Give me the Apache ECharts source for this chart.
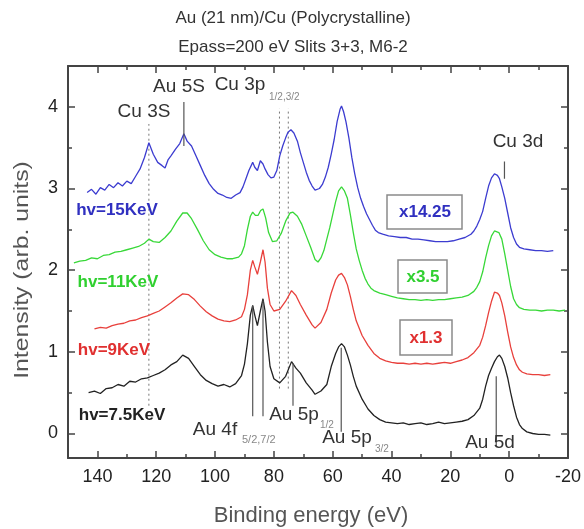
<!DOCTYPE html>
<html><head><meta charset="utf-8">
<script src="https://cdn.jsdelivr.net/npm/echarts@6/dist/echarts.min.js"></script>
<style>html,body{margin:0;padding:0;background:#fff}#c{width:584px;height:529px}</style>
</head><body><div id="c"></div>
<script>
// ---- tick values ----
const xMajorTicks = [140, 120, 100, 80, 60, 40, 20, 0, -20];
const xMinorTicks = [130, 110, 90, 70, 50, 30, 10, -10];
const yMajorTicks = [0, 1, 2, 3, 4];
const yMinorTicks = [0.5, 1.5, 2.5, 3.5];

// ---- spectra: [binding energy (eV), intensity] ----
const hv15 = [[143.5,2.95],[142,2.99],[140.5,2.93],[139,3.01],[137.5,2.98],[136,3.05],[134.5,3.01],[133,3.07],[131.5,3.03],[130,3.09],[128.5,3.06],[127,3.15],[125.5,3.24],[124,3.38],[122.5,3.56],[121,3.42],[119.5,3.32],[118,3.28],[117,3.25],[116,3.35],[115,3.40],[113.5,3.48],[112,3.55],[110.6,3.67],[109.5,3.58],[108,3.52],[106.5,3.40],[105,3.28],[103.5,3.16],[102,3.06],[100.5,2.99],[99,2.94],[97.5,2.92],[96,2.89],[94.5,2.88],[93,2.92],[91.5,2.95],[90.5,3.02],[89.5,3.12],[88.5,3.22],[87.2,3.32],[86.5,3.26],[85.6,3.22],[84.6,3.34],[83.7,3.30],[83,3.24],[82,3.17],[81,3.13],[80,3.14],[79,3.22],[78,3.40],[77,3.52],[76,3.62],[75.2,3.69],[74.2,3.72],[73.2,3.68],[72,3.58],[71,3.44],[70,3.32],[69,3.20],[68,3.10],[67,3.03],[66,2.98],[65.5,2.97],[64.5,3.00],[63.5,3.05],[62.5,3.14],[61.5,3.26],[60.5,3.42],[59.5,3.60],[58.5,3.82],[57.5,3.97],[57,4.01],[56.3,3.94],[55.5,3.82],[54.5,3.62],[53.5,3.38],[52.5,3.18],[51.5,3.01],[50.5,2.88],[49.5,2.78],[48.5,2.69],[47.5,2.62],[46.5,2.55],[45.5,2.49],[44.5,2.46],[43,2.44],[41,2.42],[39,2.41],[37,2.40],[35,2.40],[33,2.38],[31,2.38],[29,2.37],[27,2.36],[25,2.35],[23,2.35],[21,2.35],[19,2.36],[17,2.38],[15,2.40],[13,2.44],[12,2.48],[11,2.54],[10,2.62],[9,2.72],[8,2.88],[7,3.03],[6,3.13],[5,3.18],[4,3.16],[3.3,3.12],[2.5,3.02],[1.5,2.88],[0.5,2.70],[-0.5,2.52],[-1.5,2.40],[-2.5,2.32],[-3.5,2.28],[-5,2.26],[-7,2.25],[-9,2.24],[-11,2.24],[-13,2.23],[-15,2.24]];

const hv11 = [[148,2.09],[146,2.11],[144,2.12],[142,2.15],[140,2.14],[138,2.18],[136,2.19],[134,2.22],[132,2.23],[130,2.25],[128,2.27],[126,2.29],[124,2.33],[122.5,2.38],[121,2.35],[119,2.34],[117,2.40],[115,2.48],[113,2.60],[111,2.70],[109.5,2.70],[108,2.63],[106,2.50],[104,2.36],[102,2.25],[100,2.19],[98,2.16],[96,2.14],[94,2.14],[92,2.16],[91,2.20],[90,2.30],[89,2.50],[88,2.66],[87.2,2.71],[86.3,2.67],[85.4,2.67],[84.5,2.73],[83.7,2.75],[82.8,2.64],[81.8,2.46],[80.5,2.35],[79,2.36],[77.5,2.45],[76,2.60],[74.5,2.70],[73.5,2.71],[72,2.66],[70.5,2.56],[69,2.42],[67.5,2.28],[66,2.13],[65,2.10],[64,2.15],[63,2.24],[62,2.38],[61,2.52],[60,2.68],[59,2.84],[58,2.97],[57,3.02],[56,2.97],[55,2.88],[54,2.68],[53,2.46],[52,2.26],[51,2.12],[50,2.00],[49,1.90],[48,1.83],[47,1.78],[46,1.75],[44,1.72],[42,1.70],[40,1.68],[38,1.66],[36,1.65],[34,1.64],[32,1.64],[30,1.63],[28,1.64],[26,1.63],[24,1.64],[22,1.64],[20,1.65],[18,1.66],[16,1.67],[14,1.69],[12,1.74],[11,1.79],[10,1.86],[9,1.98],[8,2.15],[7,2.30],[6,2.42],[5,2.48],[4.4,2.49],[3.5,2.46],[2.5,2.38],[1.5,2.20],[0.5,2.00],[-0.5,1.80],[-1.5,1.65],[-2.5,1.58],[-3.5,1.54],[-5,1.52],[-7,1.51],[-9,1.51],[-11,1.50],[-13,1.51],[-15,1.51],[-17,1.50],[-19,1.51]];

const hv9 = [[141,1.28],[139,1.30],[137,1.29],[135,1.32],[133,1.34],[131,1.35],[129,1.38],[127,1.39],[125,1.42],[123,1.44],[121,1.47],[119,1.50],[117,1.55],[115,1.60],[113,1.66],[111,1.71],[109,1.70],[107,1.64],[105,1.56],[103,1.49],[101,1.44],[99,1.40],[97,1.38],[95,1.37],[93,1.39],[91,1.43],[90,1.52],[89,1.70],[88,2.00],[87.2,2.12],[86.5,2.04],[85.6,1.95],[84.6,2.10],[83.7,2.25],[83,2.10],[82.2,1.78],[81.3,1.58],[80,1.50],[78,1.52],[76,1.62],[74,1.75],[72.5,1.69],[71,1.58],[69,1.45],[67,1.33],[66,1.29],[64,1.36],[62,1.52],[60.5,1.72],[59,1.88],[58,1.94],[57,1.96],[56,1.91],[55,1.82],[54,1.68],[53,1.52],[52,1.38],[50,1.20],[48,1.08],[46,0.98],[44,0.92],[42,0.89],[40,0.87],[38,0.86],[36,0.86],[34,0.85],[32,0.86],[30,0.85],[28,0.86],[26,0.85],[24,0.86],[22,0.87],[20,0.86],[18,0.88],[16,0.90],[14,0.93],[12,0.99],[10,1.08],[9,1.18],[8,1.32],[7,1.48],[6,1.62],[5,1.73],[4,1.72],[3.3,1.69],[2.5,1.60],[1.5,1.44],[0.5,1.24],[-0.5,1.06],[-1.5,0.93],[-2.5,0.84],[-3.5,0.78],[-4.5,0.75],[-6,0.73],[-8,0.72],[-10,0.72],[-12,0.71],[-14,0.72]];

const hv7_5 = [[143,0.50],[141,0.52],[139,0.49],[137,0.55],[135,0.56],[133,0.60],[131,0.58],[129,0.64],[127,0.63],[125,0.67],[123,0.68],[121,0.71],[119,0.74],[117,0.78],[115,0.84],[113,0.88],[111,0.96],[109,0.92],[107,0.82],[105,0.72],[103,0.65],[101,0.61],[99,0.58],[97,0.60],[95,0.57],[93,0.61],[91,0.71],[90,0.85],[89,1.10],[88,1.45],[87.2,1.57],[86.5,1.45],[85.6,1.32],[84.6,1.50],[83.7,1.65],[83,1.50],[82.2,1.12],[81.3,0.82],[80,0.67],[78,0.62],[76,0.70],[74,0.88],[72.5,0.80],[71,0.74],[69,0.62],[67,0.53],[66,0.48],[64,0.52],[62,0.60],[60.5,0.82],[59,0.98],[58,1.06],[57,1.10],[56,1.06],[55,0.96],[54,0.84],[53,0.70],[52,0.58],[50,0.42],[48,0.30],[46,0.22],[44,0.17],[42,0.14],[40,0.13],[38,0.12],[36,0.13],[34,0.11],[32,0.12],[30,0.13],[28,0.11],[26,0.12],[24,0.14],[22,0.12],[20,0.13],[18,0.14],[16,0.15],[14,0.17],[12,0.22],[10,0.31],[9,0.42],[8,0.58],[7,0.71],[6,0.80],[5,0.88],[4,0.94],[3.3,0.96],[2.5,0.92],[1.5,0.82],[0.5,0.68],[-0.5,0.50],[-1.5,0.34],[-2.5,0.20],[-3.5,0.11],[-4.5,0.06],[-6,0.02],[-8,0.00],[-10,-0.01],[-12,-0.01],[-14,-0.02]];

// ---- peak guide lines: [energy, from, to] ----
const dottedGuides = [[122.5, 0.34, 3.79], [78.1, 0.55, 3.98], [75.1, 0.55, 3.98]];
const solidGuides = [[110.6, 3.52, 4.06], [87.2, 0.21, 1.56], [83.7, 0.21, 1.63], [73.5, 0.34, 0.86], [57.1, 0.02, 1.05], [4.4, -0.15, 0.70], [1.6, 3.12, 3.33]];

const FONT = '"Liberation Sans", Arial, Helvetica, sans-serif';
const chart = echarts.init(document.getElementById('c'), null, {renderer: 'canvas'});

function xAx(pos, ticks, len, withLine, withLabel) {
  return {
    type: 'value', min: -20, max: 150, inverse: true, position: pos,
    axisLine: {show: withLine, onZero: false, lineStyle: {color: '#444', width: 2}},
    axisTick: {show: true, inside: true, length: len, customValues: ticks, lineStyle: {color: '#444', width: 1.5}},
    axisLabel: withLabel ? {show: true, customValues: ticks, fontSize: 18, color: '#222', margin: 10, fontFamily: FONT} : {show: false},
    splitLine: {show: false}
  };
}
function yAx(pos, ticks, len, withLine, withLabel) {
  return {
    type: 'value', min: -0.3, max: 4.5, position: pos,
    axisLine: {show: withLine, onZero: false, lineStyle: {color: '#444', width: 2}},
    axisTick: {show: true, inside: true, length: len, customValues: ticks, lineStyle: {color: '#444', width: 1.5}},
    axisLabel: withLabel ? {show: true, customValues: ticks, fontSize: 18, color: '#222', margin: 10, fontFamily: FONT} : {show: false},
    splitLine: {show: false}
  };
}

function spec(data, color) {
  return {type: 'line', data: data, showSymbol: false, symbol: 'none', xAxisIndex: 0, yAxisIndex: 0,
    lineStyle: {color: color, width: 1.3}, animation: false, z: 3};
}
const series = [spec(hv7_5, '#222222'), spec(hv9, '#e8403c'), spec(hv11, '#38d838'), spec(hv15, '#3c3cd0')];
dottedGuides.forEach(g => series.push({type: 'line', data: [[g[0], g[1]], [g[0], g[2]]], showSymbol: false, symbol: 'none',
  lineStyle: {color: '#777', width: 1, type: [2, 3]}, animation: false, z: 2}));
solidGuides.forEach(g => series.push({type: 'line', data: [[g[0], g[1]], [g[0], g[2]]], showSymbol: false, symbol: 'none',
  lineStyle: {color: '#555', width: 1.2}, animation: false, z: 4}));

function txt(x, y, s, size, color, weight, align) {
  return {type: 'text', x: x, y: y, z: 10, style: {text: s, font: (weight || 'normal') + ' ' + size + 'px ' + FONT,
    fill: color, align: align || 'center', verticalAlign: 'middle', textAlign: align || 'center', textVerticalAlign: 'middle'}};
}
function box(x, y, w, h) {
  return {type: 'rect', z: 9, shape: {x: x, y: y, width: w, height: h}, style: {fill: 'rgba(0,0,0,0)', stroke: '#8a8a8a', lineWidth: 1.5}};
}

const graphic = [
  txt(293, 18, 'Au (21 nm)/Cu (Polycrystalline)', 17, '#333'),
  txt(293, 47, 'Epass=200 eV Slits 3+3, M6-2', 17, '#333'),
  txt(311, 516, 'Binding energy (eV)', 22, '#555'),
  Object.assign(txt(22, 270, 'Intensity (arb. units)', 21, '#555'), {rotation: Math.PI / 2, scaleX: 1.18}),
  txt(144, 112, 'Cu 3S', 19, '#333'),
  txt(179, 87, 'Au 5S', 19, '#333'),
  txt(240, 85, 'Cu 3p', 19, '#333'),
  txt(269, 97, '1/2,3/2', 10, '#888', 'normal', 'left'),
  txt(518, 142, 'Cu 3d', 19, '#333'),
  txt(215, 430, 'Au 4f', 19, '#333'),
  txt(242, 440, '5/2,7/2', 11, '#888', 'normal', 'left'),
  txt(294, 415, 'Au 5p', 19, '#333'),
  txt(320, 425, '1/2', 10, '#888', 'normal', 'left'),
  txt(347, 438, 'Au 5p', 19, '#333'),
  txt(375, 449, '3/2', 10, '#888', 'normal', 'left'),
  txt(490, 443, 'Au 5d', 19, '#333'),
  txt(117, 210, 'hv=15KeV', 17, '#3030c0', 'bold'),
  txt(118, 282, 'hv=11KeV', 17, '#30d030', 'bold'),
  txt(114, 350, 'hv=9KeV', 17, '#e03030', 'bold'),
  txt(122, 415, 'hv=7.5KeV', 17, '#222', 'bold'),
  box(387, 195, 75, 34), txt(425, 212, 'x14.25', 17, '#3030c0', 'bold'),
  box(398, 260, 49, 33), txt(423, 277, 'x3.5', 17, '#30d030', 'bold'),
  box(400, 320, 52, 35), txt(426, 338, 'x1.3', 17, '#e03030', 'bold')
];

chart.setOption({
  animation: false,
  backgroundColor: '#fff',
  textStyle: {fontFamily: FONT},
  grid: {left: 68, right: 16, top: 66, bottom: 71, containLabel: false},
  xAxis: [xAx('bottom', xMajorTicks, 7, true, true), xAx('bottom', xMinorTicks, 4, false, false),
          xAx('top', xMajorTicks, 7, true, false), xAx('top', xMinorTicks, 4, false, false)],
  yAxis: [yAx('left', yMajorTicks, 7, true, true), yAx('left', yMinorTicks, 4, false, false),
          yAx('right', yMajorTicks, 7, true, false), yAx('right', yMinorTicks, 4, false, false)],
  series: series,
  graphic: graphic
});
</script></body></html>
